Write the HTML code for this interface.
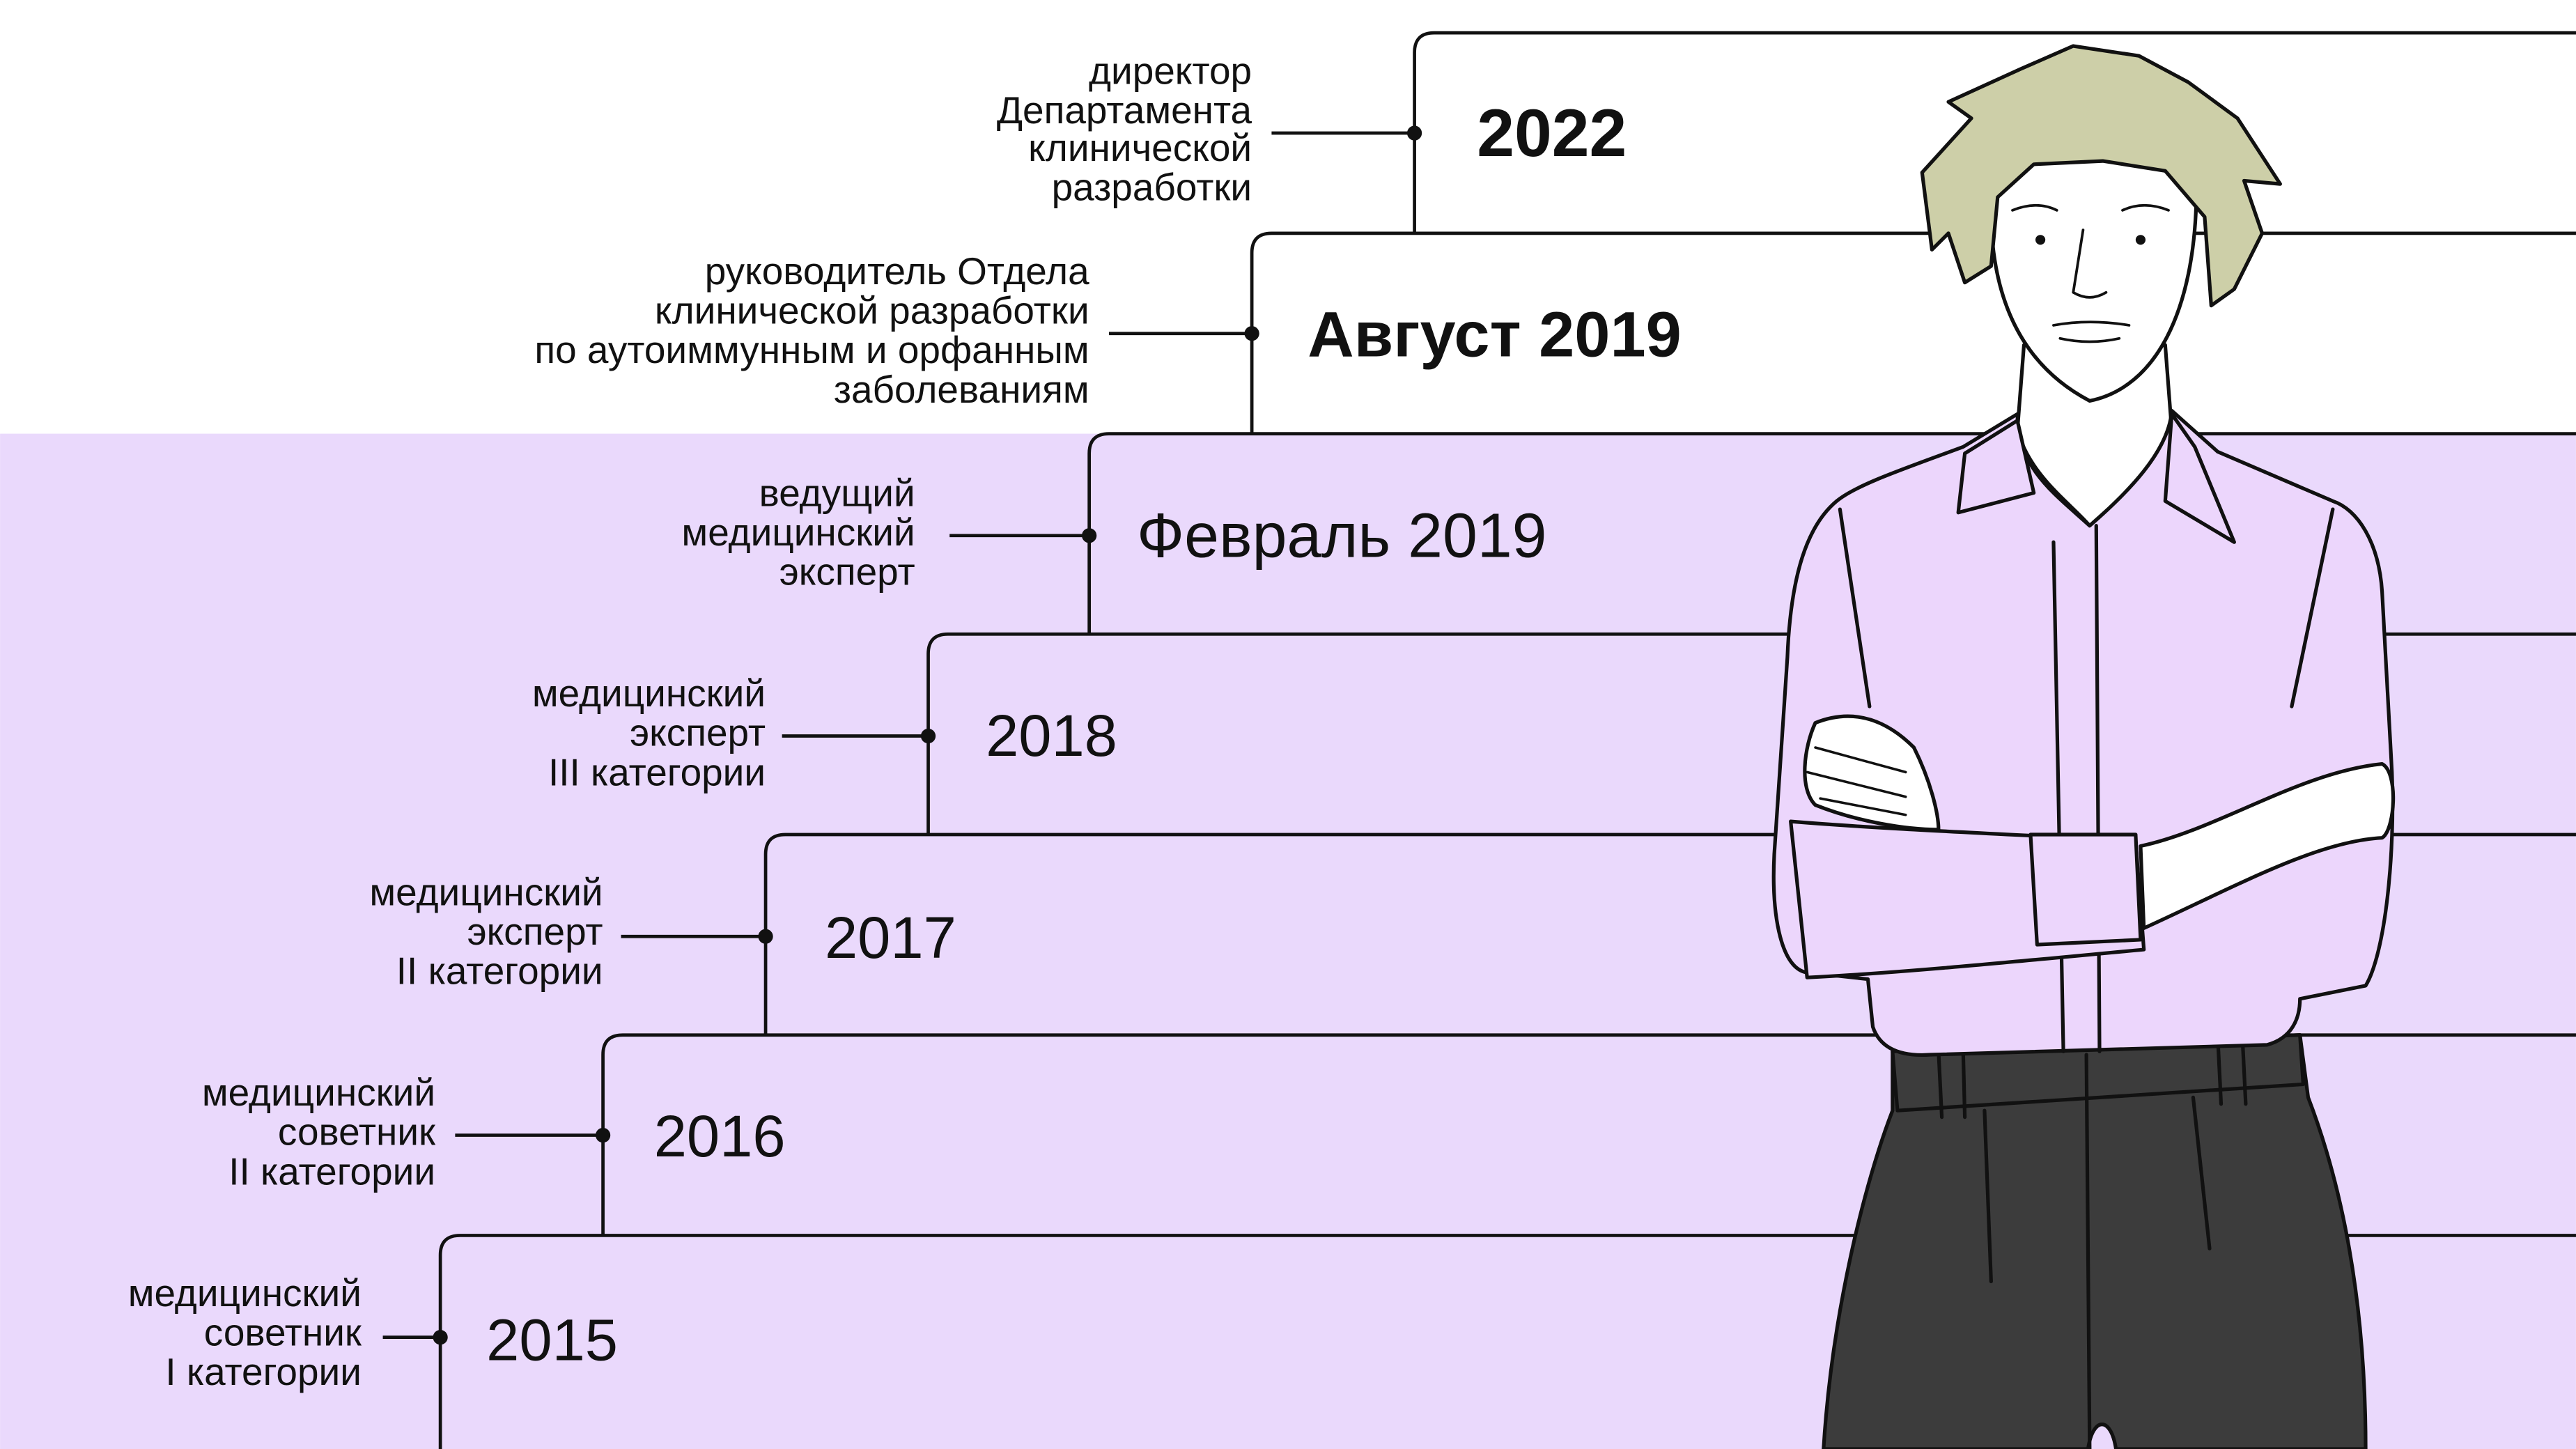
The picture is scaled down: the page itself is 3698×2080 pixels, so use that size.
<!DOCTYPE html>
<html><head><meta charset="utf-8"><style>
html,body{margin:0;padding:0;background:#fff}
svg{display:block}
text{font-family:"Liberation Sans",sans-serif;fill:#111}
.l{font-size:23.3px;text-anchor:end}
.y{font-size:36px}
.b{font-weight:bold}
</style></head><body>
<svg width="3698" height="2080" viewBox="0 0 1568 882" xmlns="http://www.w3.org/2000/svg">
<rect x="0" y="0" width="1568" height="882" fill="#fff"/>
<rect x="0" y="264" width="1568" height="618" fill="#ead9fc"/>
<g stroke="#111" stroke-width="2" fill="none">
<path d="M861 142 V32 Q861 20 873 20 H1570"/>
<path d="M762 264 V154 Q762 142 774 142 H1570"/>
<path d="M663 386 V276 Q663 264 675 264 H1570"/>
<path d="M565 508 V398 Q565 386 577 386 H1570"/>
<path d="M466 630 V520 Q466 508 478 508 H1570"/>
<path d="M367 752 V642 Q367 630 379 630 H1570"/>
<path d="M268 884 V764 Q268 752 280 752 H1570"/>
<path d="M774 81H861M675 203H762M578 326H663M476 448H565M378 570H466M277 691H367M233 814H268"/>
</g>
<g fill="#111">
<circle cx="861" cy="81" r="4.5"/><circle cx="762" cy="203" r="4.5"/><circle cx="663" cy="326" r="4.5"/>
<circle cx="565" cy="448" r="4.5"/><circle cx="466" cy="570" r="4.5"/><circle cx="367" cy="691" r="4.5"/><circle cx="268" cy="814" r="4.5"/>
</g>
<text class="l" x="762" y="51">директор</text><text class="l" x="762" y="75">Департамента</text><text class="l" x="762" y="98">клинической</text><text class="l" x="762" y="122">разработки</text>
<text class="l" x="663" y="173">руководитель Отдела</text><text class="l" x="663" y="197">клинической разработки</text><text class="l" x="663" y="221">по аутоиммунным и орфанным</text><text class="l" x="663" y="245">заболеваниям</text>
<text class="l" x="557" y="308">ведущий</text><text class="l" x="557" y="332">медицинский</text><text class="l" x="557" y="356">эксперт</text>
<text class="l" x="466" y="430">медицинский</text><text class="l" x="466" y="454">эксперт</text><text class="l" x="466" y="478">III категории</text>
<text class="l" x="367" y="551">медицинский</text><text class="l" x="367" y="575">эксперт</text><text class="l" x="367" y="599">II категории</text>
<text class="l" x="265" y="673">медицинский</text><text class="l" x="265" y="697">советник</text><text class="l" x="265" y="721">II категории</text>
<text class="l" x="220" y="795">медицинский</text><text class="l" x="220" y="819">советник</text><text class="l" x="220" y="843">I категории</text>
<text class="y b" x="899" y="95" style="font-size:41px">2022</text>
<text class="y b" x="796" y="217" style="font-size:39px">Август 2019</text>
<text class="y" x="692" y="339" style="font-size:38px">Февраль 2019</text>
<text class="y" x="600" y="460">2018</text>
<text class="y" x="502" y="583">2017</text>
<text class="y" x="398" y="704">2016</text>
<text class="y" x="296" y="828">2015</text>
<!-- figure -->
<g stroke="#111" stroke-width="2.2" stroke-linejoin="round" stroke-linecap="round">
<path d="M1152 640 L1400 630 L1405 668 C1425 720 1440 790 1440 882 L1288 882 C1285 862 1274 862 1271 882 L1110 882 C1115 800 1135 720 1152 676 Z" fill="#3c3c3c"/>
<path d="M1152 640 L1400 630 L1402 660 L1155 676 Z" fill="#3c3c3c"/>
<path d="M1270 642 L1272 882 M1208 676 L1212 780 M1335 668 L1345 760 M1180 640 L1182 680 M1195 640 L1196 680 M1350 632 L1352 672 M1365 632 L1367 672" fill="none"/>
<path d="M1232 210 L1228 262 C1236 290 1260 306 1272 320 C1292 302 1312 286 1322 262 L1318 210 Z" fill="#fff"/>
<path d="M1228 252 L1195 272 C1160 285 1130 295 1118 305 C1100 320 1090 350 1088 400 L1080 520 C1078 560 1085 590 1100 592 L1137 596 L1140 625 C1145 640 1160 643 1175 642 L1380 636 C1395 632 1400 620 1400 608 L1440 600 C1452 580 1458 520 1456 470 L1450 360 C1448 330 1435 310 1420 305 L1350 275 L1322 250 C1320 275 1295 300 1272 320 C1250 300 1228 285 1228 252 Z" fill="#ecd6fc"/>
<path d="M1228 256 L1196 276 L1192 312 L1238 300 Z" fill="#ecd6fc"/>
<path d="M1322 252 L1336 272 L1360 330 L1318 305 Z" fill="#ecd6fc"/>
<path d="M1250 330 L1256 640 M1276 320 L1278 640 M1120 310 L1138 430 M1420 310 L1395 430" fill="none"/>
<path d="M1090 500 C1150 505 1230 508 1300 512 L1305 578 C1230 585 1160 592 1100 595 Z" fill="#ecd6fc"/>
<path d="M1236 508 L1300 508 L1303 572 L1240 575 Z" fill="#ecd6fc"/>
<path d="M1303 515 C1350 505 1400 470 1450 465 C1460 470 1458 505 1450 510 C1410 512 1360 540 1305 565 Z" fill="#fff"/>
<path d="M1105 440 C1130 430 1150 440 1165 455 C1175 475 1180 495 1180 505 C1160 505 1130 500 1105 490 C1095 480 1098 455 1105 440 Z" fill="#fff"/>
<path d="M1105 455 L1160 470 M1100 470 L1160 485 M1108 486 L1160 496" fill="none" stroke-width="1.5"/>
<path d="M1212 118 C1210 180 1230 222 1272 244 C1312 236 1336 190 1337 118 C1320 78 1230 78 1212 118 Z" fill="#fff"/>
<path d="M1170 105 L1200 72 L1186 62 L1230 42 L1262 28 L1302 34 L1332 50 L1362 72 L1388 112 L1366 110 L1377 142 L1360 176 L1346 186 L1342 132 L1318 104 L1280 98 L1238 100 L1216 120 L1212 162 L1196 172 L1186 142 L1176 152 Z" fill="#cdcfa8"/>
<path d="M1225 128 Q1240 122 1252 128 M1292 128 Q1305 122 1320 128 M1268 140 L1262 178 Q1272 184 1282 178 M1250 198 Q1272 194 1296 198 M1254 206 Q1272 210 1290 206" fill="none" stroke-width="1.6"/>
<circle cx="1242" cy="146" r="3" fill="#111" stroke="none"/><circle cx="1303" cy="146" r="3" fill="#111" stroke="none"/>
</g>
</svg>
</body></html>
